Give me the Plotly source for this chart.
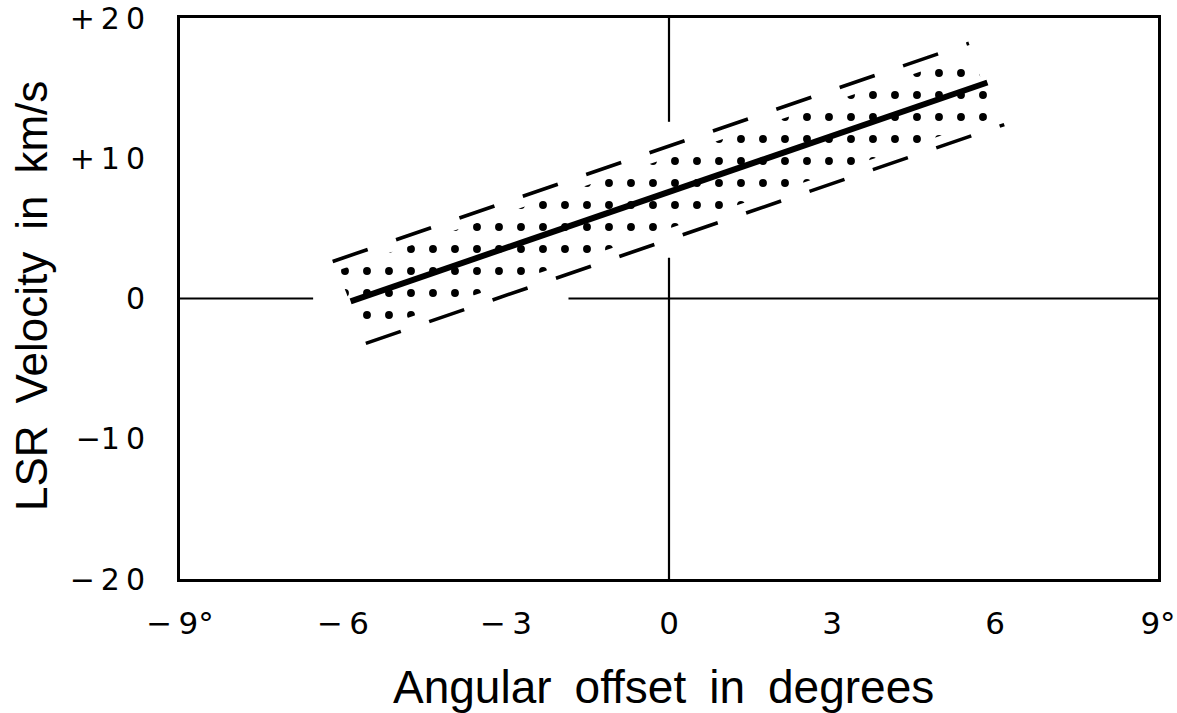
import plotly.graph_objects as go

# ---- data ----
fit_x = [-5.86, 5.86]
fit_y = [-0.2, 15.4]

upper_x = [-6.19, 5.52]
upper_y = [2.64, 18.2]

lower_x = [-5.58, 6.17]
lower_y = [-3.2, 12.4]

band_x = [-6.1, 5.55, 6.05, -5.65, -6.1]
band_y = [2.0, 17.4, 13.0, -2.5, 2.0]

# zero reference lines (with gaps where the band crosses)
hzero_x = [[-9, -6.55], [-1.85, 9]]
vzero_y = [[20, 12.6], [2.9, -20]]

x_ticks = [-9, -6, -3, 0, 3, 6, 9]
x_ticktext = ["\u2212\u20099°", "\u2212\u20096", "\u2212\u20093", "0", "3", "6", "9°"]
y_ticks = [-20, -10, 0, 10, 20]
y_ticktext = ["\u2212\u20092\u20090", "\u22121\u20090", "0", "+\u20091\u20090", "+\u20092\u20090"]

x_title = "Angular\u2002offset\u2002in\u2002degrees"
y_title = "LSR\u2002Velocity\u2002in\u2002km/s"

FONT = "Liberation Sans, Arial, sans-serif"
TICKFONT = "DejaVu Sans, sans-serif"

fig = go.Figure()

# stippled band
fig.add_trace(go.Scatter(
    x=band_x, y=band_y, mode="lines", fill="toself",
    line=dict(width=0, color="rgba(0,0,0,0)"),
    fillcolor="rgba(255,255,255,0)",
    fillpattern=dict(shape=".", size=22, solidity=0.1, fgcolor="black",
                     fgopacity=1, bgcolor="rgba(255,255,255,0)", fillmode="overlay"),
    hoverinfo="skip", showlegend=False,
))

# dashed envelope lines
for xs, ys in ((upper_x, upper_y), (lower_x, lower_y)):
    fig.add_trace(go.Scatter(
        x=xs, y=ys, mode="lines",
        line=dict(color="black", width=3.6, dash="37px,30px"),
        showlegend=False, hoverinfo="skip",
    ))

# solid fit line
fig.add_trace(go.Scatter(
    x=fit_x, y=fit_y, mode="lines",
    line=dict(color="black", width=6),
    showlegend=False, hoverinfo="skip",
))

shapes = []
for seg in hzero_x:
    shapes.append(dict(type="line", xref="x", yref="y", x0=seg[0], x1=seg[1], y0=0, y1=0,
                       line=dict(color="black", width=2.2), layer="below"))
for seg in vzero_y:
    shapes.append(dict(type="line", xref="x", yref="y", x0=0, x1=0, y0=seg[0], y1=seg[1],
                       line=dict(color="black", width=2.2), layer="below"))

fig.update_layout(
    width=1177, height=713,
    margin=dict(l=180, r=19, t=18, b=134),
    paper_bgcolor="white", plot_bgcolor="white",
    font=dict(family=FONT, color="black"),
    shapes=shapes,
    annotations=[
        dict(text=x_title, xref="paper", yref="paper", x=0.494, y=-0.192,
             xanchor="center", yanchor="middle", showarrow=False,
             font=dict(size=46, family=FONT, color="black")),
        dict(text=y_title, xref="paper", yref="paper", x=-0.152, y=0.505,
             xanchor="center", yanchor="middle", showarrow=False, textangle=-90,
             font=dict(size=44, family=FONT, color="black")),
    ],
)

fig.update_xaxes(
    range=[-9, 9], tickvals=x_ticks, ticktext=x_ticktext,
    showgrid=False, zeroline=False, automargin=False,
    showline=True, mirror=True, linecolor="black", linewidth=3,
    ticks="", ticklabelstandoff=15,
    tickfont=dict(size=31, family=TICKFONT, color="black"),
)
fig.update_yaxes(
    range=[-20, 20], tickvals=y_ticks, ticktext=y_ticktext,
    showgrid=False, zeroline=False, automargin=False,
    showline=True, mirror=True, linecolor="black", linewidth=3,
    ticks="", ticklabelstandoff=26,
    tickfont=dict(size=30, family=TICKFONT, color="black"),
)

fig.write_html("out.html")
